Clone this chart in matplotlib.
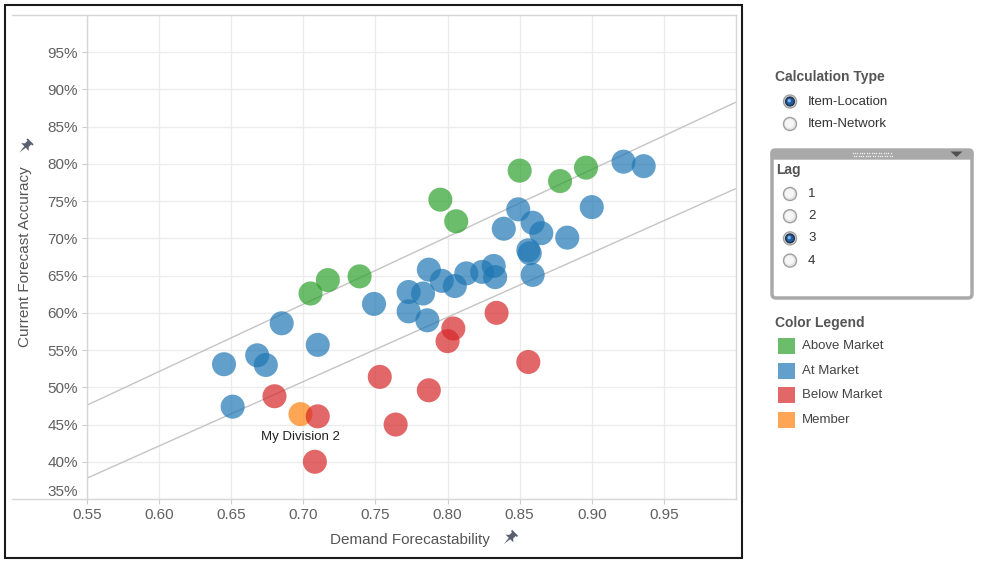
import numpy as np
import matplotlib
matplotlib.use('Agg')
import matplotlib.pyplot as plt
from matplotlib.patches import Rectangle, Circle, Polygon, FancyBboxPatch
from matplotlib.transforms import ScaledTranslation

plt.rcParams['font.family'] = ['Liberation Sans', 'DejaVu Sans']

# --- data ---
above_x = [0.705, 0.717, 0.739, 0.795, 0.806, 0.850, 0.878, 0.896]
above_y = [0.626, 0.644, 0.649, 0.752, 0.723, 0.791, 0.777, 0.795]

at_x = [0.645, 0.651, 0.668, 0.674, 0.685, 0.710, 0.749, 0.773, 0.773, 0.783,
        0.786, 0.787, 0.796, 0.805, 0.813, 0.824, 0.832, 0.833, 0.839, 0.849,
        0.859, 0.865, 0.856, 0.857, 0.859, 0.883, 0.900, 0.922, 0.936]
at_y = [0.531, 0.474, 0.543, 0.530, 0.586, 0.557, 0.612, 0.628, 0.602, 0.626,
        0.590, 0.658, 0.643, 0.636, 0.653, 0.655, 0.663, 0.648, 0.713, 0.739,
        0.721, 0.707, 0.684, 0.680, 0.651, 0.701, 0.742, 0.803, 0.797]

below_x = [0.680, 0.710, 0.708, 0.753, 0.764, 0.787, 0.800, 0.804, 0.834, 0.856]
below_y = [0.488, 0.461, 0.400, 0.514, 0.450, 0.496, 0.562, 0.579, 0.600, 0.534]

member_x = [0.698]
member_y = [0.464]
member_label = 'My Division 2'

line_x = [0.55, 1.0]
upper_y = [0.476, 0.883]
lower_y = [0.378, 0.767]

x_ticks = [0.55, 0.60, 0.65, 0.70, 0.75, 0.80, 0.85, 0.90, 0.95]
y_ticks = [0.35, 0.40, 0.45, 0.50, 0.55, 0.60, 0.65, 0.70, 0.75, 0.80, 0.85, 0.90, 0.95]

legend_names = ['Above Market', 'At Market', 'Below Market', 'Member']
legend_colors = ['tab:green', 'tab:blue', 'tab:red', 'tab:orange']
calc_types = ['Item-Location', 'Item-Network']
lags = ['1', '2', '3', '4']

W, H = 985, 561
fig = plt.figure(figsize=(W / 100, H / 100), dpi=100)
fig.patch.set_facecolor('white')

# main scatter pane (pixels 87..736 x 15..499)
ax = fig.add_axes([87 / W, 1 - 499 / H, (736 - 87) / W, (499 - 15) / H])
ax.set_xlim(0.55, 1.0)
ax.set_ylim(0.35, 1.0)
for s in ax.spines.values():
    s.set_visible(False)
ax.set_xticks(x_ticks)
ax.set_yticks(y_ticks)
ax.set_xticklabels(['%.2f' % v for v in x_ticks])
ax.set_yticklabels(['%d%%' % round(v * 100) for v in y_ticks])
ax.tick_params(axis='both', direction='out', length=3.6, width=0.8, color='#cccccc',
               labelsize=11, labelcolor='#606060', pad=3)
ax.grid(True, color='#ececec', lw=1)
ax.set_axisbelow(True)
# lift the bottom 35% label like in the original
lbl = ax.get_yticklabels()[0]
lbl.set_transform(lbl.get_transform() + ScaledTranslation(0, 9 / 100, fig.dpi_scale_trans))

ax.plot(line_x, upper_y, color='#c4c4c4', lw=1, zorder=1)
ax.plot(line_x, lower_y, color='#c4c4c4', lw=1, zorder=1)

ms = 300
ax.scatter(member_x, member_y, s=ms, color='tab:orange', alpha=0.7, edgecolors='none', zorder=2)
ax.scatter(at_x, at_y, s=ms, color='tab:blue', alpha=0.7, edgecolors='none', zorder=2)
ax.scatter(above_x, above_y, s=ms, color='tab:green', alpha=0.7, edgecolors='none', zorder=2)
ax.scatter(below_x, below_y, s=ms, color='tab:red', alpha=0.7, edgecolors='none', zorder=2)
ax.annotate(member_label, (member_x[0], member_y[0]), xytext=(0, -16.5), textcoords='offset points',
            ha='center', va='center', fontsize=9.5, color='#222222')

# overlay in pixel coordinates for frame, titles and the side panel
ov = fig.add_axes([0, 0, 1, 1])
ov.set_xlim(0, W)
ov.set_ylim(H, 0)
ov.set_axis_off()
ov.patch.set_alpha(0)

ov.add_patch(Rectangle((5, 5), 737, 553, fill=False, ec='#1a1a1a', lw=1.5))
ov.plot([12, 736], [15, 15], color='#d6d6d6', lw=1)
ov.plot([12, 736], [499, 499], color='#d6d6d6', lw=1)
ov.plot([736, 736], [15, 499], color='#d6d6d6', lw=1)
ov.plot([87, 87], [15, 499], color='#d6d6d6', lw=1)


def pin(cx, cy, k=1.0):
    # push-pin glyph, head up-right and needle down-left
    pts = np.array([(-4.2, 8), (4.2, 8), (4.2, 6.2), (2.6, 6.2), (2.6, 2.6), (5.4, 0),
                    (1.0, 0), (0, -8), (-1.0, 0), (-5.4, 0), (-2.6, 2.6), (-2.6, 6.2),
                    (-4.2, 6.2)]) * k
    a = np.deg2rad(-45)
    rx = pts[:, 0] * np.cos(a) - pts[:, 1] * np.sin(a)
    ry = pts[:, 0] * np.sin(a) + pts[:, 1] * np.cos(a)
    ov.add_patch(Polygon(np.column_stack([cx + rx, cy - ry]), closed=True,
                         fc='#5a6070', ec='none'))


ov.text(410, 540, 'Demand Forecastability', ha='center', va='center', fontsize=11, color='#555555')
pin(509.5, 538.5)
ov.text(25, 257, 'Current Forecast Accuracy', ha='center', va='center', rotation=90,
        fontsize=11, color='#555555')
pin(25, 147)


def radio(cx, cy, on=False):
    ov.add_patch(Circle((cx, cy), 6.5, fc='#e6e6e6', ec='#a0a0a0', lw=1))
    ov.add_patch(Circle((cx - 0.5, cy - 0.5), 4.5, fc='#f6f6f6', ec='none'))
    if on:
        ov.add_patch(Circle((cx, cy), 4.3, fc='#1f5fa8', ec='#26384f', lw=1.2))
        ov.add_patch(Circle((cx - 0.8, cy - 0.8), 1.7, fc='#7fb4e6', ec='none'))


# Calculation Type
ov.text(775, 77, 'Calculation Type', ha='left', va='center', fontsize=10, fontweight='bold',
        color='#555555')
for i, name in enumerate(calc_types):
    yy = 101.5 + i * 22.5
    radio(790, yy, on=(i == 0))
    ov.text(808, yy, name, ha='left', va='center', fontsize=9.5, color='#333333')

# Lag box
ov.add_patch(FancyBboxPatch((772, 151), 200, 147, boxstyle='round,pad=0,rounding_size=4',
                            fc='white', ec='#a9a9a9', lw=2.5))
ov.add_patch(FancyBboxPatch((771, 149), 202, 10, boxstyle='round,pad=0,rounding_size=4',
                            fc='#a9a9a9', ec='#a9a9a9', lw=1))
for gx in np.arange(852.5, 891, 2.4):
    ov.plot([gx], [153], marker='s', ms=0.9, color='#f2f2f2', mec='none')
    ov.plot([gx + 1.2], [155.5], marker='s', ms=0.9, color='#f2f2f2', mec='none')
ov.add_patch(Polygon([(950.5, 151.5), (962.5, 151.5), (956.5, 157)], closed=True,
                     fc='#505050', ec='none'))
ov.text(776, 170, 'Lag', ha='left', va='center', fontsize=10, fontweight='bold', color='#555555')
for i, name in enumerate(lags):
    yy = 194 + i * 22.2
    radio(790, yy, on=(name == '3'))
    ov.text(808, yy, name, ha='left', va='center', fontsize=9.5, color='#333333')

# Color legend
ov.text(775, 323, 'Color Legend', ha='left', va='center', fontsize=10, fontweight='bold',
        color='#555555')
for i, (name, col) in enumerate(zip(legend_names, legend_colors)):
    yy = 346 + i * 24.5
    ov.add_patch(Rectangle((778, yy - 8), 17, 16, fc=col, alpha=0.7, ec='none'))
    ov.text(802, yy, name, ha='left', va='center', fontsize=9.5, color='#444444')

fig.savefig('out.png', dpi=100)
